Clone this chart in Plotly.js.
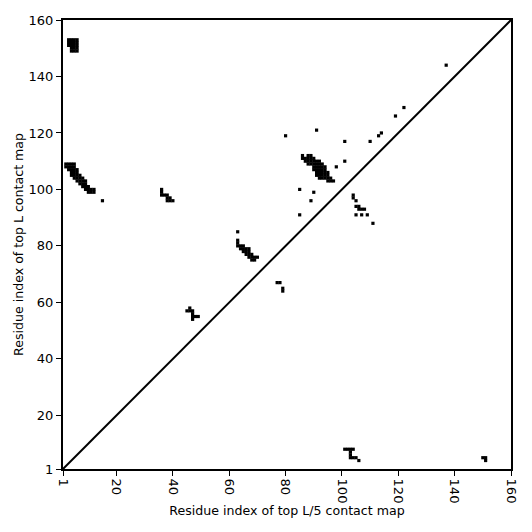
<!DOCTYPE html>
<html>
<head>
<meta charset="utf-8">
<script src="https://cdn.plot.ly/plotly-3.0.1.min.js"></script>
<style>html,body{margin:0;padding:0;background:#fff;}#chart{width:532px;height:532px;}</style>
</head>
<body>
<div id="chart"></div>
<script>
// Top L contacts (upper triangle): residue i (x), residue j (y)
const topLX = [
  3,4,5,6, 3,4,5,6, 3,4,5,6, 4,5,6, 4,5,6,
  2,3,4,5, 2,3,4,5, 3,4,5,6, 4,5,6, 4,5,6,7, 5,6,7,8, 6,7,8,9, 7,8,9, 8,9,10, 9,10,11,12, 10,11,12,
  15,
  36,36,36,37,38,38,39,38,39,40,
  46,45,46,47,47,47,48,49,47,
  63,63,63,63,64,65,64,65,66,67,65,66,67,66,67,68,67,68,69,70,68,69,
  77,78,79,79,
  86,88,89, 86,87,88,89,90, 87,88,89,90,91,92, 88,89,90,91,92,93, 90,91,92,93,94, 90,91,92,93,94,
  91,92,93,94,95, 92,93,94,95, 92,93,94,95,96, 95,96,97,
  91,98,101,
  80,91,101,110,113,114,119,122,137,
  85,90,89,85,
  104,104,105, 105,106,106,107,108, 105,107,109, 111
];
const topLY = [
  153,153,153,153, 152,152,152,152, 151,151,151,151, 150,150,150, 149,149,149,
  109,109,109,109, 108,108,108,108, 107,107,107,107, 106,106,106, 105,105,105,105, 104,104,104,104, 103,103,103,103, 102,102,102, 101,101,101, 100,100,100,100, 99,99,99,
  96,
  100,99,98,98,98,97,97,96,96,96,
  58,57,57,57,56,55,55,55,54,
  85,82,81,80,80,80,79,79,79,79,78,78,78,77,77,77,76,76,76,76,75,75,
  67,67,65,64,
  112,112,112, 111,111,111,111,111, 110,110,110,110,110,110, 109,109,109,109,109,109, 108,108,108,108,108, 107,107,107,107,107,
  106,106,106,106,106, 105,105,105,105, 104,104,104,104,104, 103,103,103,
  105,108,110,
  119,121,117,117,119,120,126,129,144,
  100,99,96,91,
  98,97,96, 94,94,93,93,93, 91,91,91, 88
];
// Top L/5 contacts (lower triangle)
const topL5X = [101,102,103,104,103,103,103,104,105,106,150,151,151];
const topL5Y = [8,8,8,8,7,6,5,5,5,4,5,5,4];
// Diagonal
const diagX = [1,160];
const diagY = [1,160];
const tickVals = [1,20,40,60,80,100,120,140,160];
const tickText = ['1','20','40','60','80','100','120','140','160'];

const mk = {symbol:'square', size:3.2, color:'#000', line:{width:0}};
const traces = [
  {x:topLX, y:topLY, type:'scatter', mode:'markers', marker:mk, hoverinfo:'skip'},
  {x:topL5X, y:topL5Y, type:'scatter', mode:'markers', marker:mk, hoverinfo:'skip'},
  {x:diagX, y:diagY, type:'scatter', mode:'lines', line:{color:'#000', width:2}, hoverinfo:'skip'}
];
const axisBase = {
  range:[1,160], tickvals:tickVals, ticktext:tickText,
  showline:true, mirror:true, linecolor:'#000', linewidth:2,
  ticks:'outside', ticklen:5, tickwidth:1, tickcolor:'#000',
  showgrid:false, zeroline:false,
  tickfont:{family:'DejaVu Sans', size:13, color:'#000'}
};
const layout = {
  width:532, height:532,
  margin:{l:63, r:21, t:20, b:63, pad:0},
  paper_bgcolor:'#fff', plot_bgcolor:'#fff',
  showlegend:false,
  font:{family:'DejaVu Sans', size:13, color:'#000'},
  xaxis:Object.assign({}, axisBase, {tickangle:90, title:{text:'Residue index of top L/5 contact map', font:{size:12.6}, standoff:3}}),
  yaxis:Object.assign({}, axisBase, {title:{text:'Residue index of top L contact map', font:{size:12.6}, standoff:2}})
};
Plotly.newPlot('chart', traces, layout, {staticPlot:true, displayModeBar:false});
</script>
</body>
</html>
